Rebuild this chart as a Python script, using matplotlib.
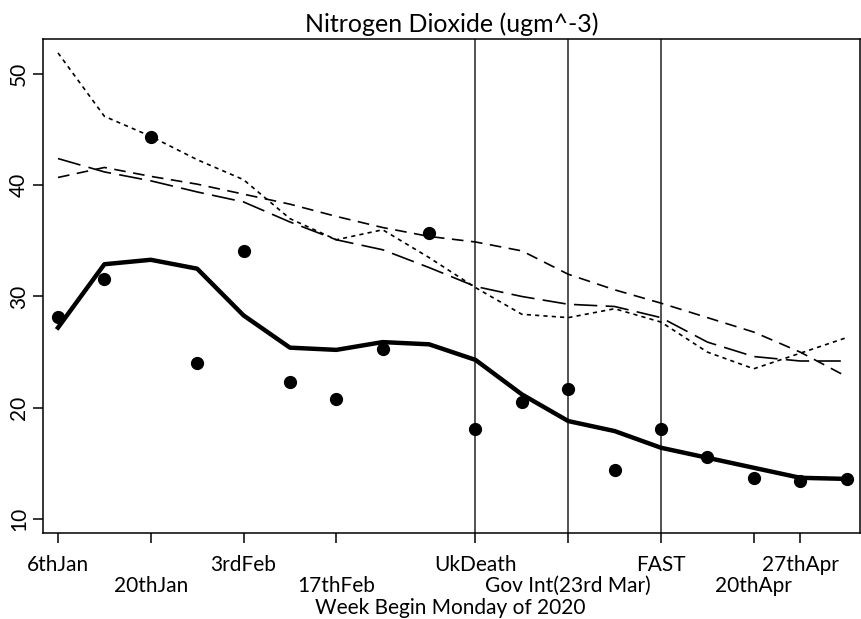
import matplotlib
matplotlib.use('Agg')
import matplotlib.pyplot as plt

plt.rcParams['font.family'] = ['Lato', 'DejaVu Sans']

# weeks 1..18 (week beginning Monday, 6th Jan 2020 onwards)
weeks = list(range(1, 19))

# weekly observed means (dots)
no2_points = [28.2, 31.6, 44.3, 24.0, 34.1, 22.3, 20.8, 25.3, 35.7, 18.1,
              20.5, 21.7, 14.4, 18.1, 15.6, 13.7, 13.4, 13.6]
# smoothed 2020 (thick solid)
no2_2020 = [27.2, 32.9, 33.3, 32.5, 28.3, 25.4, 25.2, 25.9, 25.7, 24.3,
            21.2, 18.8, 17.9, 16.4, 15.5, 14.6, 13.7, 13.6]
# comparison years
no2_dotted = [51.9, 46.2, 44.4, 42.3, 40.5, 37.0, 35.1, 36.0, 33.5, 30.8,
              28.4, 28.1, 28.9, 27.7, 25.0, 23.5, 24.9, 26.3]
no2_dashed = [40.7, 41.6, 40.8, 40.1, 39.2, 38.3, 37.2, 36.2, 35.4, 34.9,
              34.1, 32.0, 30.6, 29.4, 28.1, 26.8, 25.0, 22.8]
no2_longdash = [42.4, 41.2, 40.4, 39.4, 38.5, 36.7, 35.1, 34.2, 32.6, 30.9,
                30.0, 29.3, 29.1, 28.1, 25.9, 24.6, 24.2, 24.2]

events = [10, 12, 14]
top_ticks = [1, 5, 10, 14, 17]
top_labels = ["6thJan", "3rdFeb", "UkDeath", "FAST", "27thApr"]
bottom_ticks = [3, 7, 12, 16]
bottom_labels = ["20thJan", "17thFeb", "Gov Int(23rd Mar)", "20thApr"]

fig = plt.figure(figsize=(8.62, 6.19), dpi=100)
ax = fig.add_axes([0.0499, 0.139, 0.9478, 0.798])

for e in events:
    ax.axvline(e, color='#444444', lw=1.3, zorder=1)

ax.plot(weeks, no2_dotted, color='black', lw=1.2, dashes=(2.5, 2.5))
ax.plot(weeks, no2_dashed, color='black', lw=1.2, dashes=(7, 4.5))
ax.plot(weeks, no2_longdash, color='black', lw=1.2, dashes=(14, 5))
ax.plot(weeks, no2_2020, color='black', lw=3.2, solid_joinstyle='round')
ax.plot(weeks, no2_points, 'o', color='black', ms=8.5)

ax.set_xlim(0.677, 18.29)
ax.set_ylim(8.74, 53.15)

for s in ax.spines.values():
    s.set_linewidth(1.1)

ax.set_yticks([10, 20, 30, 40, 50])
ax.tick_params(axis='y', length=7, width=1.1, labelsize=15, pad=3)
for lab in ax.get_yticklabels():
    lab.set_rotation(90)
    lab.set_va('center')

ax.set_xticks(top_ticks)
ax.set_xticklabels(top_labels)
ax.set_xticks(bottom_ticks, minor=True)
ax.set_xticklabels(bottom_labels, minor=True)
ax.tick_params(axis='x', which='major', length=7, width=1.1, labelsize=15, pad=9)
ax.tick_params(axis='x', which='minor', length=7, width=1.1, labelsize=15, pad=24)

ax.set_title("Nitrogen Dioxide (ugm^-3)", fontsize=18, pad=5)
fig.text(0.522, 0.002, "Week Begin Monday of 2020", ha='center', va='bottom', fontsize=15)

fig.savefig("out.png", dpi=100)
